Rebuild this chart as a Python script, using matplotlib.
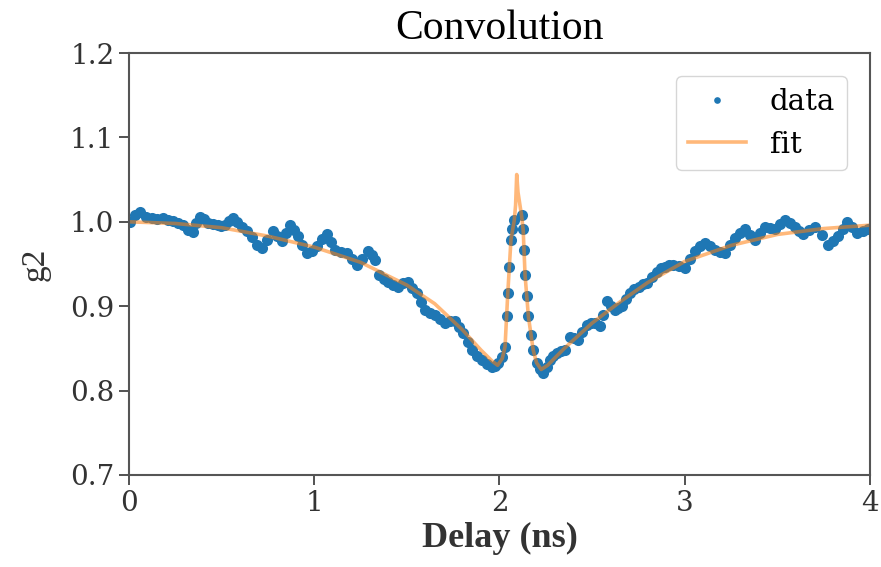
import numpy as np
import matplotlib
matplotlib.use("Agg")
from matplotlib import pyplot as plt

data_x = [0.005, 0.032, 0.059, 0.09, 0.123, 0.153, 0.184, 0.211, 0.238, 0.265,
          0.291, 0.318, 0.345, 0.364, 0.383, 0.405, 0.426, 0.453, 0.48, 0.499,
          0.518, 0.54, 0.561, 0.585, 0.61, 0.637, 0.664, 0.69, 0.716, 0.746,
          0.777, 0.8, 0.824, 0.846, 0.869, 0.89, 0.912, 0.935, 0.959, 0.986,
          1.013, 1.04, 1.067, 1.09, 1.112, 1.143, 1.175, 1.202, 1.229, 1.26,
          1.292, 1.31, 1.328, 1.35, 1.374, 1.398, 1.425, 1.452, 1.48, 1.506,
          1.53, 1.555, 1.577, 1.598, 1.625, 1.652, 1.68, 1.706, 1.733, 1.76,
          1.782, 1.803, 1.828, 1.852, 1.878, 1.905, 1.932, 1.96, 1.976, 1.992,
          2.015, 2.03, 2.039, 2.044, 2.051, 2.062, 2.069, 2.08, 2.12, 2.128,
          2.133, 2.138, 2.147, 2.156, 2.17, 2.182, 2.2, 2.218, 2.236, 2.255,
          2.273, 2.291, 2.309, 2.332, 2.354, 2.381, 2.403, 2.425, 2.448, 2.471,
          2.494, 2.516, 2.543, 2.561, 2.579, 2.6, 2.623, 2.642, 2.66, 2.683,
          2.705, 2.728, 2.751, 2.773, 2.795, 2.822, 2.849, 2.872, 2.894, 2.917,
          2.939, 2.97, 3.001, 3.028, 3.055, 3.082, 3.109, 3.136, 3.163, 3.19,
          3.217, 3.244, 3.271, 3.298, 3.325, 3.352, 3.379, 3.406, 3.433, 3.46,
          3.487, 3.514, 3.541, 3.568, 3.595, 3.617, 3.64, 3.672, 3.703, 3.74,
          3.775, 3.802, 3.829, 3.852, 3.874, 3.901, 3.928, 3.96, 3.991]
data_y = [1.0, 1.008, 1.012, 1.006, 1.004, 1.003, 1.005, 1.002, 1.001, 0.999,
          0.996, 0.99, 0.988, 0.998, 1.006, 1.003, 0.999, 0.997, 0.996, 0.995,
          0.996, 1.001, 1.005, 1.0, 0.994, 0.989, 0.982, 0.973, 0.969, 0.979,
          0.989, 0.983, 0.977, 0.987, 0.996, 0.99, 0.983, 0.972, 0.963, 0.965,
          0.971, 0.98, 0.985, 0.976, 0.967, 0.964, 0.963, 0.956, 0.949, 0.956,
          0.965, 0.961, 0.955, 0.937, 0.932, 0.929, 0.925, 0.923, 0.927, 0.929,
          0.922, 0.916, 0.905, 0.896, 0.892, 0.89, 0.885, 0.88, 0.882, 0.882,
          0.875, 0.868, 0.858, 0.848, 0.841, 0.836, 0.831, 0.828, 0.829, 0.833,
          0.84, 0.852, 0.888, 0.916, 0.947, 0.979, 0.991, 1.002, 1.008, 0.991,
          0.967, 0.937, 0.912, 0.888, 0.866, 0.848, 0.833, 0.825, 0.821, 0.828,
          0.836, 0.841, 0.845, 0.847, 0.848, 0.864, 0.862, 0.86, 0.869, 0.878,
          0.88, 0.88, 0.876, 0.89, 0.906, 0.9, 0.896, 0.898, 0.9, 0.908,
          0.916, 0.92, 0.923, 0.926, 0.928, 0.935, 0.941, 0.945, 0.947, 0.949,
          0.949, 0.948, 0.945, 0.956, 0.965, 0.971, 0.975, 0.971, 0.967, 0.964,
          0.963, 0.972, 0.981, 0.987, 0.991, 0.984, 0.979, 0.987, 0.994, 0.993,
          0.991, 0.997, 1.002, 0.998, 0.994, 0.989, 0.985, 0.99, 0.994, 0.984,
          0.973, 0.977, 0.983, 0.992, 1.0, 0.994, 0.987, 0.989, 0.991]

# fitted curve
fit_x = [0, 0.25, 0.5, 0.75, 1.0, 1.25, 1.5, 1.65, 1.8, 1.9, 1.96, 1.99, 2.015,
         2.03, 2.045, 2.062, 2.08, 2.087, 2.093, 2.1, 2.12, 2.128, 2.138, 2.156,
         2.182, 2.2, 2.225, 2.26, 2.35, 2.5, 2.65, 2.8, 3.0, 3.25, 3.5, 3.75, 4.0]
fit_y = [1.0, 0.998, 0.993, 0.983, 0.97, 0.952, 0.925, 0.903, 0.872, 0.848, 0.835,
         0.83, 0.838, 0.852, 0.916, 0.979, 1.002, 1.02, 1.056, 1.035, 1.006, 0.99,
         0.937, 0.888, 0.848, 0.833, 0.825, 0.83, 0.85, 0.88, 0.905, 0.928, 0.953,
         0.972, 0.985, 0.992, 0.996]

plt.rcParams['font.family'] = 'DejaVu Serif'

fig = plt.figure(figsize=[8.81, 5.67], dpi=100)
ax = fig.add_axes([0.1464, 0.1623, 0.8411, 0.7442])

ax.plot(data_x, data_y, 'o', color='#1f77b4', markersize=8, markeredgewidth=0,
        label='data')
ax.plot(fit_x, fit_y, '-', color='#ff7f0e', lw=2.6, alpha=0.55, label='fit')

ax.set_xlim(0, 4)
ax.set_ylim(0.7, 1.2)
ax.set_xticks([0, 1, 2, 3, 4])
ax.set_yticks([0.7, 0.8, 0.9, 1.0, 1.1, 1.2])
ax.tick_params(labelsize=20, length=7, width=1.3, color='#444444',
               labelcolor='#333333')
for s in ax.spines.values():
    s.set_color('#555555')
    s.set_linewidth(1.5)

ax.set_title('Convolution', fontsize=30, family='Liberation Serif', pad=10)
ax.set_xlabel('Delay (ns)', fontsize=26, family='Liberation Serif',
              fontweight='bold', labelpad=4, color='#333333')
ax.set_ylabel('g2', fontsize=24, family='Liberation Serif', labelpad=14,
              color='#333333')

leg = ax.legend(loc='upper right', fontsize=21, numpoints=1, markerscale=0.6,
                borderaxespad=0.8, handlelength=2.0)
leg.get_frame().set_edgecolor('#cccccc')

plt.savefig('out.png', dpi=100)
